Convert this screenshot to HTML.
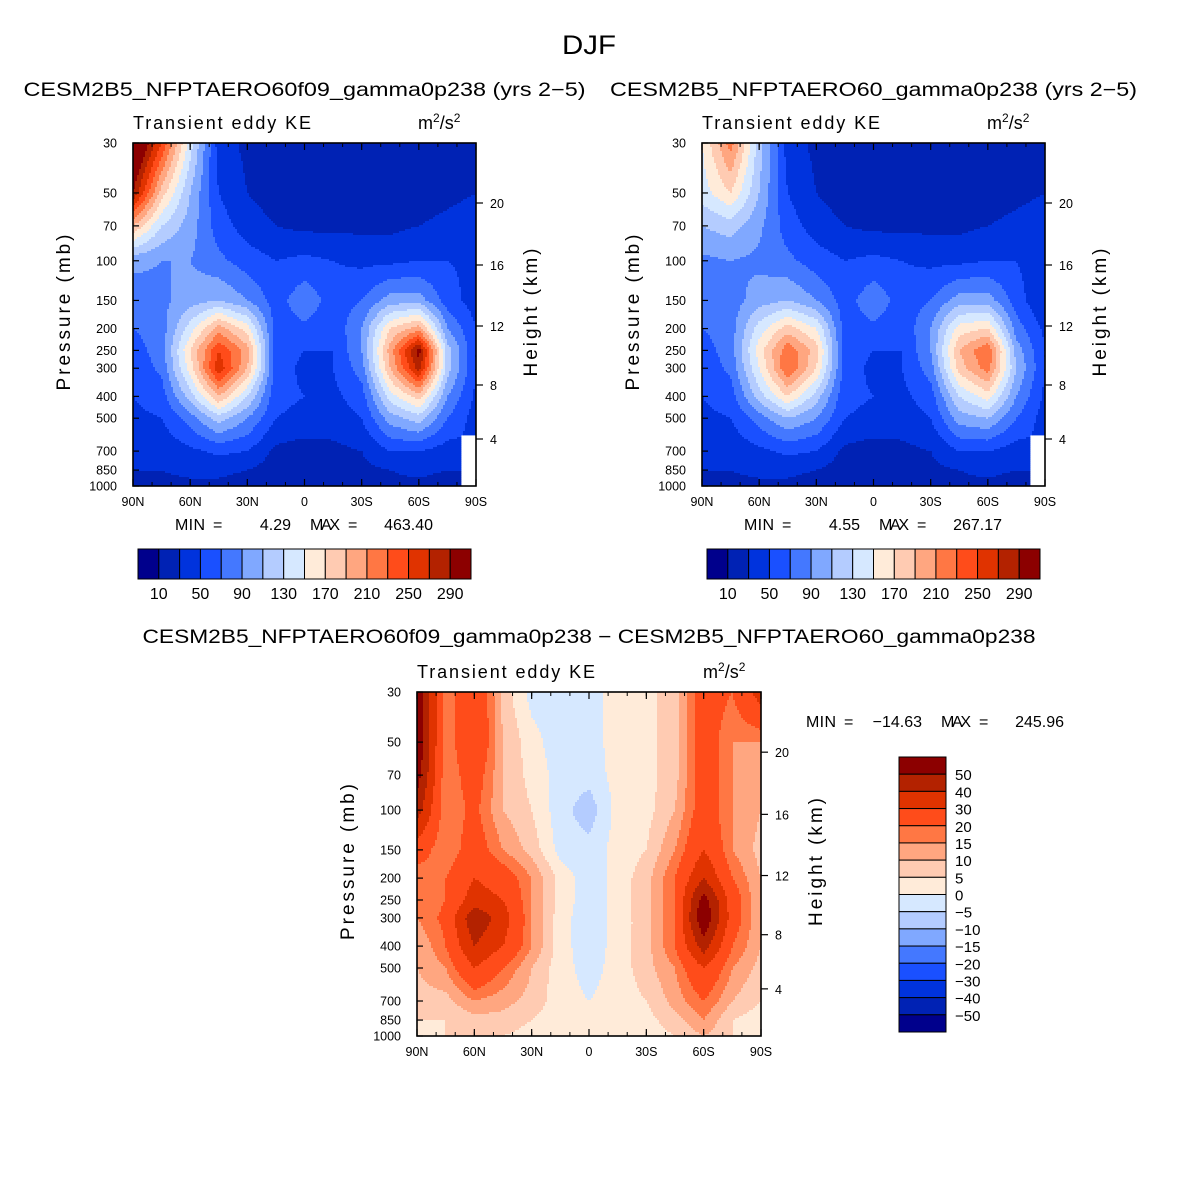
<!DOCTYPE html>
<html><head><meta charset="utf-8">
<style>
body{margin:0;background:#fff;}
svg text{font-family:"Liberation Sans",sans-serif;fill:#000;white-space:pre;}
</style></head>
<body>
<svg id="fig" width="1179" height="1177" viewBox="0 0 1179 1177" xmlns="http://www.w3.org/2000/svg">
<rect width="1179" height="1177" fill="#fff"/>
<text x="562" y="54" font-size="27" textLength="54" lengthAdjust="spacingAndGlyphs">DJF</text>
</svg>
<script>
const pressures=[30,50,70,100,150,200,250,300,400,500,700,850,1000];
const latLabels=["90N","60N","30N","0","30S","60S","90S"];
const heightLabels=[4,8,12,16,20];
const colors=["#00008C","#0022B4","#0033DD","#1A50FF","#4478FF","#80A8FF","#B4CCFF","#D6E8FF","#FFEBD9","#FFCBB2","#FFA680","#FF7744","#FF4C1A","#E03300","#B32200","#8C0000"];
const levelsAbs=[10,30,50,70,90,110,130,150,170,190,210,230,250,270,290];
const levelsDiff=[-50,-40,-30,-20,-15,-10,-5,0,5,10,15,20,30,40,50];
const cbAbsLabels=["10","50","90","130","170","210","250","290"];
const cbDiffLabels=["50","40","30","20","15","10","5","0","-5","-10","-15","-20","-30","-40","-50"];
// grid rows = pressures, cols = 90N..90S every 15 deg
const field1=[
[340,250,140,40,25,20,15,15,15,15,20,25,30],
[290,180,110,50,30,20,15,15,15,15,20,25,30],
[190,130,100,60,40,30,25,25,25,25,30,35,40],
[95,90,90,75,60,50,55,50,45,45,50,50,45],
[80,85,100,110,90,60,85,60,70,100,100,60,40],
[70,80,140,200,160,60,65,55,90,170,200,90,50],
[60,80,170,250,200,60,50,50,90,200,300,120,50],
[55,75,160,265,190,60,45,50,80,190,280,120,50],
[50,60,120,190,130,55,50,45,60,140,180,90,45],
[45,50,80,120,90,50,45,40,50,100,120,70,40],
[35,35,45,55,50,25,20,25,30,50,50,40,null],
[30,30,35,35,30,20,15,20,25,30,35,30,null],
[25,25,25,25,20,15,10,20,20,25,25,20,null]];
const field2=[
[150,220,120,40,25,20,15,15,15,15,20,25,30],
[140,170,110,50,30,20,15,15,15,15,20,25,30],
[110,120,95,60,40,30,25,25,25,25,30,35,40],
[85,90,85,75,60,50,55,50,45,45,50,50,35],
[75,80,100,110,90,60,85,60,70,100,100,60,30],
[70,80,140,180,150,60,65,55,90,160,170,80,45],
[60,80,160,225,180,60,50,50,90,190,230,100,50],
[55,75,150,230,170,60,45,50,80,180,220,110,50],
[50,60,120,170,120,55,50,45,60,130,160,90,45],
[45,50,80,110,90,50,45,40,50,100,110,70,40],
[35,35,45,55,50,25,20,25,30,50,50,40,null],
[30,30,35,35,30,20,15,20,25,30,35,30,null],
[25,25,25,25,20,15,10,20,20,25,25,20,null]];
const field3=[
[60,15,30,8,-2,-3,-2,2,3,8,25,20,35],
[60,15,30,10,2,-3,-2,2,3,8,25,15,15],
[55,15,25,10,3,-2,-3,2,3,8,25,15,10],
[45,15,22,10,5,-3,-8,2,3,10,25,15,10],
[25,15,25,15,8,-2,-3,2,5,15,30,15,8],
[15,20,30,25,15,3,-3,2,8,20,40,20,10],
[15,20,35,30,15,3,-3,2,8,20,55,25,10],
[15,22,48,35,15,2,-3,2,8,20,60,25,10],
[10,20,40,30,15,2,-3,2,8,20,45,20,10],
[10,15,30,20,10,2,-2,2,8,15,30,15,8],
[8,8,15,12,8,2,0,2,5,12,20,10,5],
[5,5,8,8,5,2,2,2,3,8,15,5,2],
[3,5,5,5,3,2,2,2,2,5,10,5,2]];

const NS="http://www.w3.org/2000/svg";
const svg=document.getElementById("fig");
function mk(tag,attrs,parent){const e=document.createElementNS(NS,tag);for(const k in attrs)e.setAttribute(k,attrs[k]);(parent||svg).appendChild(e);return e;}
function txt(x,y,s,size,anchor,parent){const t=mk("text",{x:x,y:y,"font-size":size,"text-anchor":anchor||"start"},parent);t.textContent=s;return t;}
const LP=Math.log(1000/30);
const LPS=pressures.map(p=>Math.log(p));
function yOfP(p,h){return Math.log(p/30)/LP*h;}
function sample(grid,u,lp){
  let r=0;
  while(r<pressures.length-2&&lp>LPS[r+1])r++;
  const fr=Math.min(1,Math.max(0,(lp-LPS[r])/(LPS[r+1]-LPS[r])));
  let c=Math.min(11,Math.floor(u));const fc=Math.min(1,u-c);
  const a=grid[r][c],b=grid[r][c+1],d=grid[r+1][c],e=grid[r+1][c+1];
  if(a===null||b===null||d===null||e===null){
    const near=[[a,(1-fc)*(1-fr)],[b,fc*(1-fr)],[d,(1-fc)*fr],[e,fc*fr]];
    let best=near.reduce((m,q)=>q[1]>m[1]?q:m);
    if(best[0]===null)return null;
    let s=0,w=0;near.forEach(q=>{if(q[0]!==null){s+=q[0]*q[1];w+=q[1];}});return s/w;
  }
  return (a*(1-fc)+b*fc)*(1-fr)+(d*(1-fc)+e*fc)*fr;
}
function levelIdx(v,levels){let i=0;while(i<levels.length&&v>=levels[i])i++;return i;}

function panel(name,X,Y,W,H,grid,levels,title){
  const g=mk("g",{});
  
  
  const fill=mk("g",{},g);
  
  
  const step=2;
  for(let py=0;py<H;py+=step){
    const lp=Math.log(30)+(py+step/2)/H*LP;
    let runStart=0,runIdx=null;
    const flush=(end)=>{if(runIdx!==null&&runIdx>=0){mk("rect",{x:X+runStart,y:Y+py,width:Math.min(end,W)-runStart+0.4,height:Math.min(step+0.4,H-py),fill:colors[runIdx]},fill);}};
    for(let px=0;px<W;px+=step){
      const u=Math.min(12,(px+step/2)/W*12);const v=sample(grid,u,lp);
      const idx=v===null?-1:levelIdx(v,levels);
      if(idx!==runIdx){if(runIdx!==null)flush(px);runStart=px;runIdx=idx;}
    }
    flush(W);
  }
  const fr=mk("rect",{x:X,y:Y,width:W,height:H,fill:"none",stroke:"#000","stroke-width":1.6},g);
  
  
  latLabels.forEach((l,i)=>{
    const x=X+i*W/6;
    mk("line",{x1:x,y1:Y+H,x2:x,y2:Y+H-7,stroke:"#000","stroke-width":1.2},g);
    mk("line",{x1:x,y1:Y,x2:x,y2:Y+7,stroke:"#000","stroke-width":1.2},g);
    const t=txt(x,Y+H+20,l,12.5,"middle",g);
    
    
  });
  for(let i=0;i<18;i++){const x=X+i*W/18;mk("line",{x1:x,y1:Y+H,x2:x,y2:Y+H-4,stroke:"#000"},g);mk("line",{x1:x,y1:Y,x2:x,y2:Y+4,stroke:"#000"},g);}
  pressures.forEach(p=>{
    const y=Y+yOfP(p,H);
    mk("line",{x1:X,y1:y,x2:X+6,y2:y,stroke:"#000","stroke-width":1.2},g);
    const t=txt(X-16,y+4.5,String(p),12.5,"end",g);
    
    
  });
  const hOff={4:296,8:242,12:183,16:122,20:60};
  heightLabels.forEach(hk=>{
    const y=Y+hOff[hk]*H/343;
    mk("line",{x1:X+W,y1:y,x2:X+W+7,y2:y,stroke:"#000","stroke-width":1.2},g);
    const t=txt(X+W+14,y+5,String(hk),12.5,"start",g);
    
    
  });
  const yt=txt(0,0,"Pressure (mb)",19,"middle",g);
  yt.setAttribute("transform",`translate(${X-63},${Y+H/2-2}) rotate(-90)`);
  yt.setAttribute("textLength","156");
  
  
  const yr=txt(0,0,"Height (km)",19,"middle",g);
  yr.setAttribute("transform",`translate(${X+W+61},${Y+H/2-2}) rotate(-90)`);
  yr.setAttribute("textLength","128");
  
  
  const st=txt(X,Y-14,"Transient eddy KE",18,"start",g);
  st.setAttribute("textLength","178");
  
  
  const un=mk("text",{x:X+W-58,y:Y-14,"font-size":18},g);
  un.innerHTML='m<tspan font-size="12" dy="-7">2</tspan><tspan dy="7">/s</tspan><tspan font-size="12" dy="-7">2</tspan>';
  
  
  const tt=txt(X+W/2-title[2]/2,title[1],title[0],19.5,"start",g);
  tt.setAttribute("textLength",title[2]);
  tt.setAttribute("lengthAdjust","spacingAndGlyphs");
  
  
}
panel("panel-a",133,143,343,343,field1,levelsAbs,["CESM2B5_NFPTAERO60f09_gamma0p238 (yrs 2−5)",96,562]);
panel("panel-b",702,143,343,343,field2,levelsAbs,["CESM2B5_NFPTAERO60_gamma0p238 (yrs 2−5)",96,527]);
panel("panel-diff",417,692,344,344,field3,levelsDiff,["CESM2B5_NFPTAERO60f09_gamma0p238 − CESM2B5_NFPTAERO60_gamma0p238",643,893]);

function minmax(x,y,minV,maxV,name){
  const g=mk("g",{});
  
  
  txt(x,y,"MIN",16,"start",g).setAttribute("textLength","30");
  txt(x+38,y,"=",16,"start",g);
  txt(x+116,y,minV,16,"end",g);
  txt(x+135,y,"MAX",16,"start",g).setAttribute("textLength","30");
  txt(x+173,y,"=",16,"start",g);
  txt(x+258,y,maxV,16,"end",g);
}
minmax(175,530,"4.29","463.40","minmax-a");
minmax(744,530,"4.55","267.17","minmax-b");
minmax(806,727,"−14.63","245.96","minmax-diff");

function hbar(X,Y,name){
  const g=mk("g",{});
  
  
  const w=333/16;
  colors.forEach((c,i)=>{const r=mk("rect",{x:X+i*w,y:Y,width:w,height:30,fill:c,stroke:"#000","stroke-width":1},g);
    
    });
  cbAbsLabels.forEach((l,i)=>{const t=txt(X+(1+2*i)*w,Y+50,l,16,"middle",g);
    
    });
}
hbar(138,549,"colorbar-a");
hbar(707,549,"colorbar-b");
(function(){
  const g=mk("g",{});
  
  
  const X=899,Y=757,h=275/16;
  colors.slice().reverse().forEach((c,i)=>{const r=mk("rect",{x:X,y:Y+i*h,width:47,height:h,fill:c,stroke:"#000","stroke-width":1},g);
    
    });
  cbDiffLabels.forEach((l,i)=>{const t=txt(X+56,Y+(i+1)*h+6,l.replace("-","−"),15,"start",g);
    
    });
})();
</script>
</body></html>
